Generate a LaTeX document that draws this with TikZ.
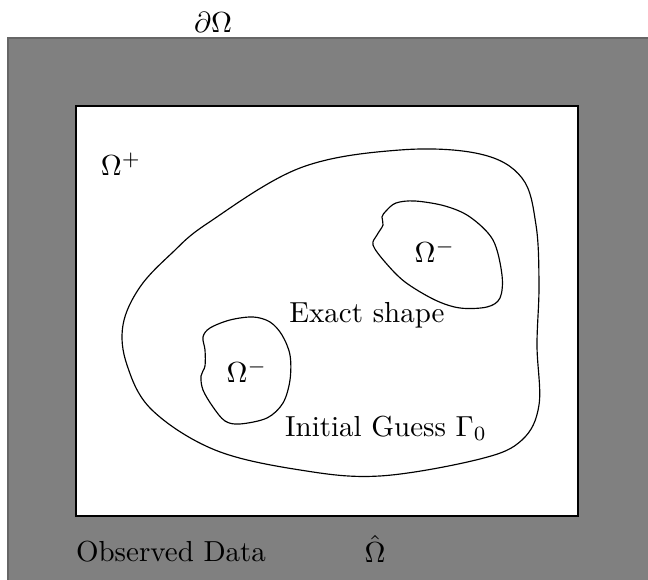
\documentclass[tikz,border=0pt]{standalone}
\usetikzlibrary{calc}
\begin{document}
\begin{tikzpicture}[x=0.345pt,y=-0.345pt,
  curve/.style={draw=black,line width=0.4pt},
  lbl/.style={inner sep=0pt,font=\normalsize}]
\useasboundingbox (0,0) rectangle (648,580);
% outer gray box
\filldraw[fill=black!50,draw=black!60,line width=0.4pt] (8,38) rectangle (650,582);
% inner white box
\filldraw[fill=white,draw=black,line width=0.4pt] (76,106) rectangle (578,516);
% initial guess
\draw[curve] plot[smooth cycle,tension=0.6] coordinates {
 (208,223) (300,168) (400,150) (480,154) (522,178) (536,225) (539,285)
 (537,345) (539,405) (522,440) (480,459) (380,476) (300,470) (215,450)
 (152,410) (127,365) (123,325) (140,287) (172,253)};
% lower-left exact blob
\draw[curve] plot[smooth cycle,tension=0.55] coordinates {
 (210,328) (230,320) (253,317) (270,322) (282,335) (290,355) (290,380)
 (283,403) (267,418) (240,424) (225,421) (213,407) (203,390) (201,376)
 (205,366) (205,350) (203,337)};
% upper-right exact blob
\draw[curve] plot[smooth cycle,tension=0.55] coordinates {
 (386,211) (396,203) (415,201) (445,206) (470,217) (493,240) (502,275)
 (500,298) (487,307) (460,308) (435,300) (405,282) (385,262) (373,245)
 (377,235) (383,225) (382,217)};
% labels
\node[lbl] (dO) at (213,22) {$\partial\Omega$};
\node[lbl] (Op) at (121,164) {$\Omega^+$};
\node[lbl] (Om1) at (435,251) {$\Omega^-$};
\node[lbl] (Om2) at (247,371) {$\Omega^-$};
\node[lbl] (ex) at (367,315) {Exact shape};
\node[lbl] (ig) at (386,428) {Initial Guess $\Gamma_0$};
\node[lbl] (od) at (171,552) {Observed Data};
\node[lbl] (oh) at (375,549) {$\hat{\Omega}$};
\end{tikzpicture}
\end{document}
